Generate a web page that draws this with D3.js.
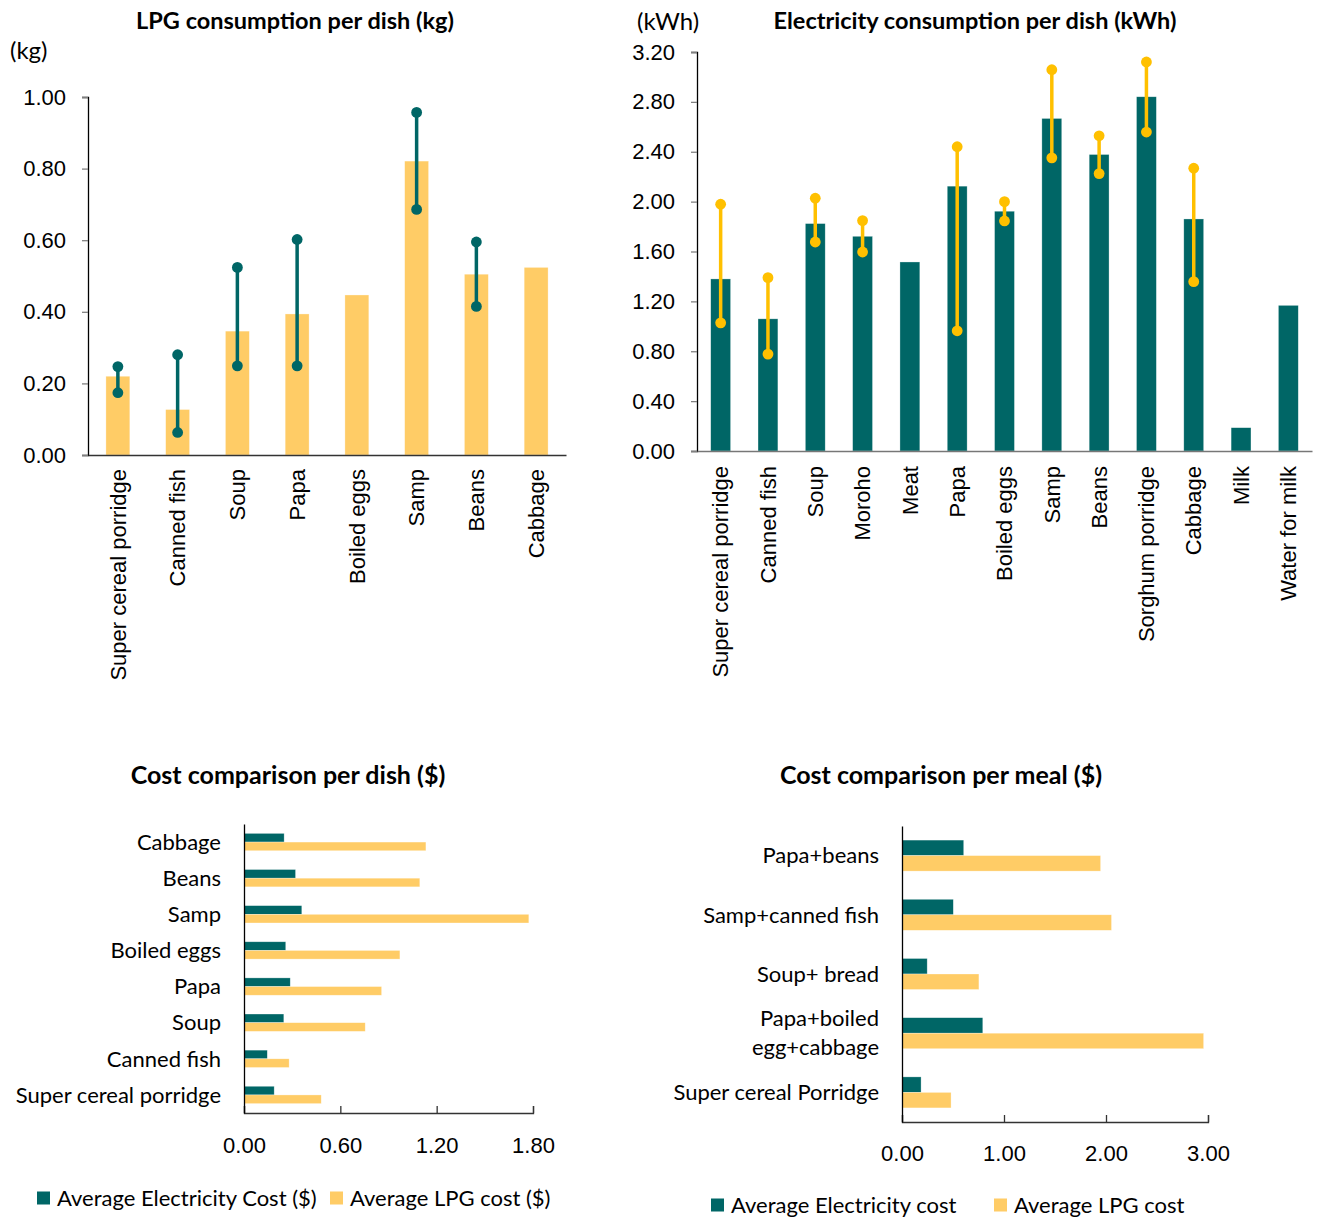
<!DOCTYPE html>
<html>
<head>
<meta charset="utf-8">
<script src="https://cdn.jsdelivr.net/npm/d3@7"></script>
<style>
  html, body { margin: 0; padding: 0; background: #fff; }
  svg { display: block; font-family: Lato, "Open Sans", sans-serif; }
  .title { font-weight: bold; font-size: 23.5px; fill: #000; }
  .lbl { font-size: 22px; fill: #000; }
</style>
</head>
<body>
<svg id="chart" width="1322" height="1220"></svg>
<script>
// ---- Data ----
const TEAL = "#006666";
const LPG_YELLOW = "#FFCC66";
const RANGE_YELLOW = "#FFC000";

// LPG consumption per dish (kg): mean with min/max range
const lpgDishes = ["Super cereal porridge", "Canned fish", "Soup", "Papa", "Boiled eggs", "Samp", "Beans", "Cabbage"];
const lpgMean = [0.22, 0.127, 0.346, 0.394, 0.447, 0.821, 0.505, 0.524];
const lpgMax  = [0.247, 0.28, 0.524, 0.602, null, 0.957, 0.595, null];
const lpgMin  = [0.174, 0.063, 0.249, 0.249, null, 0.686, 0.415, null];
const lpgTicks = [0, 0.2, 0.4, 0.6, 0.8, 1.0];

// Electricity consumption per dish (kWh): mean with min/max range
const elecDishes = ["Super cereal porridge", "Canned fish", "Soup", "Moroho", "Meat", "Papa", "Boiled eggs", "Samp", "Beans", "Sorghum porridge", "Cabbage", "Milk", "Water for milk"];
const elecMean = [1.38, 1.06, 1.824, 1.722, 1.516, 2.124, 1.923, 2.667, 2.378, 2.841, 1.861, 0.187, 1.168];
const elecMax  = [1.979, 1.39, 2.027, 1.848, null, 2.44, 2.0, 3.058, 2.528, 3.12, 2.268, null, null];
const elecMin  = [1.028, 0.777, 1.676, 1.596, null, 0.964, 1.845, 2.351, 2.225, 2.558, 1.358, null, null];
const elecTicks = [0, 0.4, 0.8, 1.2, 1.6, 2.0, 2.4, 2.8, 3.2];

// Cost comparison per dish ($), listed top to bottom
const costDishes = ["Cabbage", "Beans", "Samp", "Boiled eggs", "Papa", "Soup", "Canned fish", "Super cereal porridge"];
const costDishElec = [0.25, 0.321, 0.36, 0.26, 0.288, 0.248, 0.145, 0.188];
const costDishLpg  = [1.133, 1.095, 1.774, 0.971, 0.857, 0.755, 0.281, 0.481];
const costDishTicks = [0, 0.6, 1.2, 1.8];

// Cost comparison per meal ($), listed top to bottom
const meals = [["Papa+beans"], ["Samp+canned fish"], ["Soup+ bread"], ["Papa+boiled", "egg+cabbage"], ["Super cereal Porridge"]];
const costMealElec = [0.605, 0.503, 0.247, 0.792, 0.187];
const costMealLpg  = [1.947, 2.054, 0.754, 2.957, 0.481];
const costMealTicks = [0, 1, 2, 3];

const svg = d3.select("#chart");

// ---- Vertical bar chart with min/max range markers ----
function columnChart(opt) {
  const g = svg.append("g");
  const x = d3.scaleBand().domain(opt.cats).range([opt.x0, opt.x1]).paddingInner(opt.pad).paddingOuter(opt.pad / 2);
  const y = d3.scaleLinear().domain([0, opt.yMax]).range([opt.y0, opt.y1]);

  // bars
  g.selectAll("rect.bar").data(opt.cats).join("rect")
    .attr("x", d => x(d)).attr("width", x.bandwidth())
    .attr("y", (d, i) => y(opt.mean[i]))
    .attr("height", (d, i) => y(0) - y(opt.mean[i]))
    .attr("fill", opt.barColor)
    .attr("stroke", "#fff").attr("stroke-opacity", 0.5).attr("stroke-width", 0.6);

  // range markers
  const rng = opt.cats.map((c, i) => ({ c, lo: opt.min[i], hi: opt.max[i] })).filter(d => d.lo != null);
  g.selectAll("line.rng").data(rng).join("line")
    .attr("x1", d => x(d.c) + x.bandwidth() / 2).attr("x2", d => x(d.c) + x.bandwidth() / 2)
    .attr("y1", d => y(d.lo)).attr("y2", d => y(d.hi))
    .attr("stroke", opt.rangeColor).attr("stroke-width", 3.5);
  const dots = rng.flatMap(d => [{ c: d.c, v: d.lo }, { c: d.c, v: d.hi }]);
  g.selectAll("circle.rng").data(dots).join("circle")
    .attr("cx", d => x(d.c) + x.bandwidth() / 2).attr("cy", d => y(d.v))
    .attr("r", 5.4).attr("fill", opt.rangeColor);

  // y axis
  const ya = g.append("g").attr("transform", `translate(${opt.x0},0)`)
    .call(d3.axisLeft(y).tickValues(opt.ticks).tickFormat(d3.format(".2f")).tickSize(6).tickPadding(16));
  ya.select(".domain").attr("stroke", "#000").attr("stroke-width", 1.3);
  ya.selectAll(".tick line").attr("stroke", "#808080").attr("stroke-width", 1.3);
  ya.selectAll(".tick text").attr("class", "lbl").attr("font-family", null).attr("font-size", null).attr("fill", "#000");

  // x axis (no ticks) with rotated labels
  const xa = g.append("g").attr("transform", `translate(0,${opt.y0})`)
    .call(d3.axisBottom(x).tickSize(0).tickPadding(0));
  xa.select(".domain").attr("stroke", opt.xAxisColor).attr("stroke-width", 1.5);
  xa.selectAll(".tick text").attr("class", "lbl").attr("font-family", null).attr("font-size", null).attr("fill", "#000")
    .attr("transform", `translate(0,${opt.labelGap}) rotate(-90)`)
    .attr("text-anchor", "end").attr("dy", "0.35em").attr("x", 0).attr("y", 0);

  // title and unit
  g.append("text").attr("class", "title").attr("x", opt.titleX).attr("y", 29).attr("text-anchor", "middle").text(opt.title);
  g.append("text").attr("class", "lbl").attr("x", opt.unitX).attr("y", opt.unitY).style("font-size", "24px").text(opt.unit);
}

// ---- Horizontal grouped bar chart ----
function costChart(opt) {
  const g = svg.append("g");
  const keys = opt.cats.map((c, i) => i);
  const y = d3.scaleBand().domain(keys).range([opt.y1, opt.y0]).paddingInner(opt.pad).paddingOuter(opt.pad / 2);
  const ys = d3.scaleBand().domain(["elec", "lpg"]).range([0, y.bandwidth()]);
  const x = d3.scaleLinear().domain([0, opt.xMax]).range([opt.x0, opt.x1]);

  const series = [{ k: "elec", vals: opt.elec, color: TEAL }, { k: "lpg", vals: opt.lpg, color: LPG_YELLOW }];
  series.forEach(s => {
    g.selectAll(null).data(keys).join("rect")
      .attr("x", x(0)).attr("y", i => y(i) + ys(s.k))
      .attr("width", i => x(s.vals[i]) - x(0)).attr("height", ys.bandwidth())
      .attr("fill", s.color)
      .attr("stroke", "#fff").attr("stroke-opacity", 0.5).attr("stroke-width", 0.6);
  });

  // axes
  const xa = g.append("g").attr("transform", `translate(0,${opt.y0})`)
    .call(d3.axisBottom(x).tickValues(opt.ticks).tickFormat(d3.format(".2f")).tickSize(-7).tickPadding(0));
  xa.select(".domain").attr("stroke", "#333").attr("stroke-width", 1.3);
  xa.selectAll(".tick line").attr("stroke", "#333").attr("stroke-width", 1.3);
  xa.selectAll(".tick text").attr("class", "lbl").attr("font-family", null).attr("font-size", null).attr("fill", "#000")
    .attr("y", opt.tickLabelGap).attr("dy", "0.35em");

  const ya = g.append("g").attr("transform", `translate(${opt.x0},0)`)
    .call(d3.axisLeft(y).tickSize(0).tickFormat(() => ""));
  ya.select(".domain").attr("stroke", "#000").attr("stroke-width", 1.3);

  // category labels (may span two lines)
  keys.forEach(i => {
    const lines = [].concat(opt.cats[i]);
    const cy = y(i) + y.bandwidth() / 2;
    const t = g.append("text").attr("class", "lbl").attr("text-anchor", "end");
    lines.forEach((ln, j) => {
      t.append("tspan").attr("x", opt.labelX)
        .attr("y", cy + (j - (lines.length - 1) / 2) * 29)
        .attr("dy", "0.35em").text(ln);
    });
  });

  g.append("text").attr("class", "title").style("font-size", "25px")
    .attr("x", opt.titleX).attr("y", 784).attr("text-anchor", "middle").text(opt.title);

  // legend
  const lg = g.append("g");
  opt.legend.forEach((L, j) => {
    lg.append("rect").attr("x", L.x).attr("y", opt.legendY - 6.5).attr("width", 13).attr("height", 13).attr("fill", series[j].color);
    lg.append("text").attr("class", "lbl").attr("x", L.x + 20).attr("y", opt.legendY).attr("dy", "0.35em").text(L.text);
  });
}

columnChart({
  cats: lpgDishes, mean: lpgMean, min: lpgMin, max: lpgMax, ticks: lpgTicks, yMax: 1.0,
  x0: 88, x1: 566, y0: 455, y1: 97, pad: 0.6,
  barColor: LPG_YELLOW, rangeColor: TEAL, xAxisColor: "#333", labelGap: 14,
  title: "LPG consumption per dish (kg)", titleX: 295, unit: "(kg)", unitX: 10, unitY: 59
});

columnChart({
  cats: elecDishes, mean: elecMean, min: elecMin, max: elecMax, ticks: elecTicks, yMax: 3.2,
  x0: 697, x1: 1312, y0: 451, y1: 52, pad: 0.58,
  barColor: TEAL, rangeColor: RANGE_YELLOW, xAxisColor: "#777", labelGap: 15,
  title: "Electricity consumption per dish (kWh)", titleX: 975, unit: "(kWh)", unitX: 637, unitY: 30
});

costChart({
  cats: costDishes, elec: costDishElec, lpg: costDishLpg, ticks: costDishTicks, xMax: 1.8,
  x0: 244, x1: 533, y0: 1113, y1: 824, pad: 0.52, labelX: 221, tickLabelGap: 32,
  title: "Cost comparison per dish ($)", titleX: 288,
  legendY: 1198, legend: [{ x: 37, text: "Average Electricity Cost ($)" }, { x: 330, text: "Average LPG cost ($)" }]
});

costChart({
  cats: meals, elec: costMealElec, lpg: costMealLpg, ticks: costMealTicks, xMax: 3.0,
  x0: 902, x1: 1208, y0: 1122, y1: 826, pad: 0.476, labelX: 879, tickLabelGap: 31,
  title: "Cost comparison per meal ($)", titleX: 941,
  legendY: 1205, legend: [{ x: 711, text: "Average Electricity cost" }, { x: 994, text: "Average LPG cost" }]
});
</script>
</body>
</html>
